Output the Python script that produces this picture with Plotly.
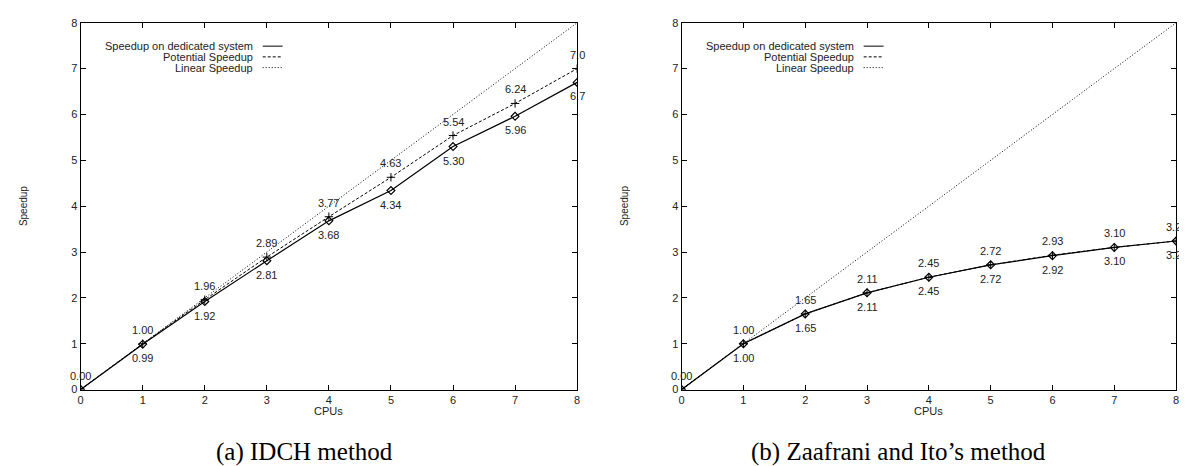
import plotly.graph_objects as go

W, H = 1187, 466

cpus = [0, 1, 2, 3, 4, 5, 6, 7, 8]
linear = [0, 1, 2, 3, 4, 5, 6, 7, 8]

# (a) IDCH method
a_dedicated = [0.00, 0.99, 1.92, 2.81, 3.68, 4.34, 5.30, 5.96, 6.70]
a_potential = [0.00, 1.00, 1.96, 2.89, 3.77, 4.63, 5.54, 6.24, 7.00]
a_ded_labels = ["", "0.99", "1.92", "2.81", "3.68", "4.34", "5.30", "5.96", "6.7"]
a_pot_labels = ["0.00", "1.00", "1.96", "2.89", "3.77", "4.63", "5.54", "6.24", "7.0"]

# (b) Zaafrani and Ito's method
b_dedicated = [0.00, 1.00, 1.65, 2.11, 2.45, 2.72, 2.92, 3.10, 3.24]
b_potential = [0.00, 1.00, 1.65, 2.11, 2.45, 2.72, 2.93, 3.10, 3.24]
b_ded_labels = ["", "1.00", "1.65", "2.11", "2.45", "2.72", "2.92", "3.10", "3.24"]
b_pot_labels = ["0.00", "1.00", "1.65", "2.11", "2.45", "2.72", "2.93", "3.10", "3.24"]

series_names = ["Speedup on dedicated system", "Potential Speedup", "Linear Speedup"]
captions = ["(a) IDCH method", "(b) Zaafrani and Ito\u2019s method"]
ticks = [0, 1, 2, 3, 4, 5, 6, 7, 8]

FONT = "Liberation Sans, Arial, Helvetica, sans-serif"
SERIF = "Liberation Serif, Times New Roman, serif"
TXT = "#222"


def px(x):
    return x / W


def py(y):
    return 1 - y / H


top, bottom = 9, 385.5
panels = [
    dict(x0=70, x1=569, xa="x", ya="y", ded=a_dedicated, pot=a_potential,
         dl=a_ded_labels, pl=a_pot_labels, cap=captions[0], cap_x=295),
    dict(x0=674, x1=1171, xa="x2", ya="y2", ded=b_dedicated, pot=b_potential,
         dl=b_ded_labels, pl=b_pot_labels, cap=captions[1], cap_x=892),
]

fig = go.Figure()
annotations = []
shapes = []
DOT = "1px,2px"
DASH = "3px,2px"

for p in panels:
    fig.add_trace(go.Scatter(x=cpus, y=linear, mode="lines", xaxis=p["xa"], yaxis=p["ya"],
                             line=dict(color="black", width=1, dash=DOT),
                             showlegend=False, hoverinfo="skip"))
    fig.add_trace(go.Scatter(x=cpus, y=p["pot"], mode="lines+markers", xaxis=p["xa"], yaxis=p["ya"],
                             line=dict(color="black", width=1, dash=DASH),
                             marker=dict(symbol="cross-thin-open", size=6,
                                         line=dict(color="black", width=1)),
                             showlegend=False))
    fig.add_trace(go.Scatter(x=cpus, y=p["ded"], mode="lines+markers", xaxis=p["xa"], yaxis=p["ya"],
                             line=dict(color="black", width=1.2),
                             marker=dict(symbol="diamond-open", size=6, color="black",
                                         line=dict(color="black", width=1.2)),
                             showlegend=False))

    # value labels: potential above, dedicated below
    for xv, yv, t in zip(cpus, p["pot"], p["pl"]):
        if t:
            annotations.append(dict(x=xv, y=yv, xref=p["xa"], yref=p["ya"], text=t,
                                    showarrow=False, xanchor="center", yanchor="middle",
                                    yshift=14, font=dict(family=FONT, size=11, color=TXT)))
    for xv, yv, t in zip(cpus, p["ded"], p["dl"]):
        if t:
            annotations.append(dict(x=xv, y=yv, xref=p["xa"], yref=p["ya"], text=t,
                                    showarrow=False, xanchor="center", yanchor="middle",
                                    yshift=-14, font=dict(family=FONT, size=11, color=TXT)))

    # legend (gnuplot style: text then sample)
    leg_x = p["x0"] + 175
    dashes = ["solid", DASH, DOT]
    for i, name in enumerate(series_names):
        yy = 33 + 11 * i
        annotations.append(dict(x=px(leg_x), y=py(yy), xref="paper", yref="paper",
                                text=name, showarrow=False, xanchor="right", yanchor="middle",
                                font=dict(family=FONT, size=11, color=TXT)))
        shapes.append(dict(type="line", xref="paper", yref="paper",
                           x0=px(leg_x + 8), x1=px(leg_x + 28),
                           y0=py(yy), y1=py(yy),
                           line=dict(color="black", width=1, dash=dashes[i])))
    # axis titles
    annotations.append(dict(x=px(p["x0"] - 58), y=py((top + bottom) / 2), xref="paper", yref="paper",
                            text="Speedup", showarrow=False, textangle=-90,
                            xanchor="center", yanchor="middle",
                            font=dict(family=FONT, size=10, color=TXT)))
    annotations.append(dict(x=px((p["x0"] + p["x1"]) / 2), y=py(408), xref="paper", yref="paper",
                            text="CPUs", showarrow=False, xanchor="center", yanchor="middle",
                            font=dict(family=FONT, size=11, color=TXT)))
    annotations.append(dict(x=px(p["cap_x"]), y=py(450), xref="paper", yref="paper",
                            text=p["cap"], showarrow=False, xanchor="center", yanchor="middle",
                            font=dict(family=SERIF, size=25, color="black")))

axis_common = dict(range=[0, 8], tickvals=ticks, ticks="inside", ticklen=5, tickwidth=1,
                   tickcolor="black", showline=True, linecolor="black", linewidth=1,
                   mirror="allticks", showgrid=False, zeroline=False,
                   tickfont=dict(family=FONT, size=11, color=TXT))

fig.update_layout(
    width=W, height=H, margin=dict(l=0, r=0, t=0, b=0),
    paper_bgcolor="white", plot_bgcolor="white",
    xaxis=dict(domain=[px(70), px(569)], anchor="y", **axis_common),
    yaxis=dict(domain=[py(bottom), py(top)], anchor="x", **axis_common),
    xaxis2=dict(domain=[px(674), px(1171)], anchor="y2", **axis_common),
    yaxis2=dict(domain=[py(bottom), py(top)], anchor="x2", **axis_common),
    annotations=annotations, shapes=shapes, showlegend=False,
)

fig.write_html("out.html")
